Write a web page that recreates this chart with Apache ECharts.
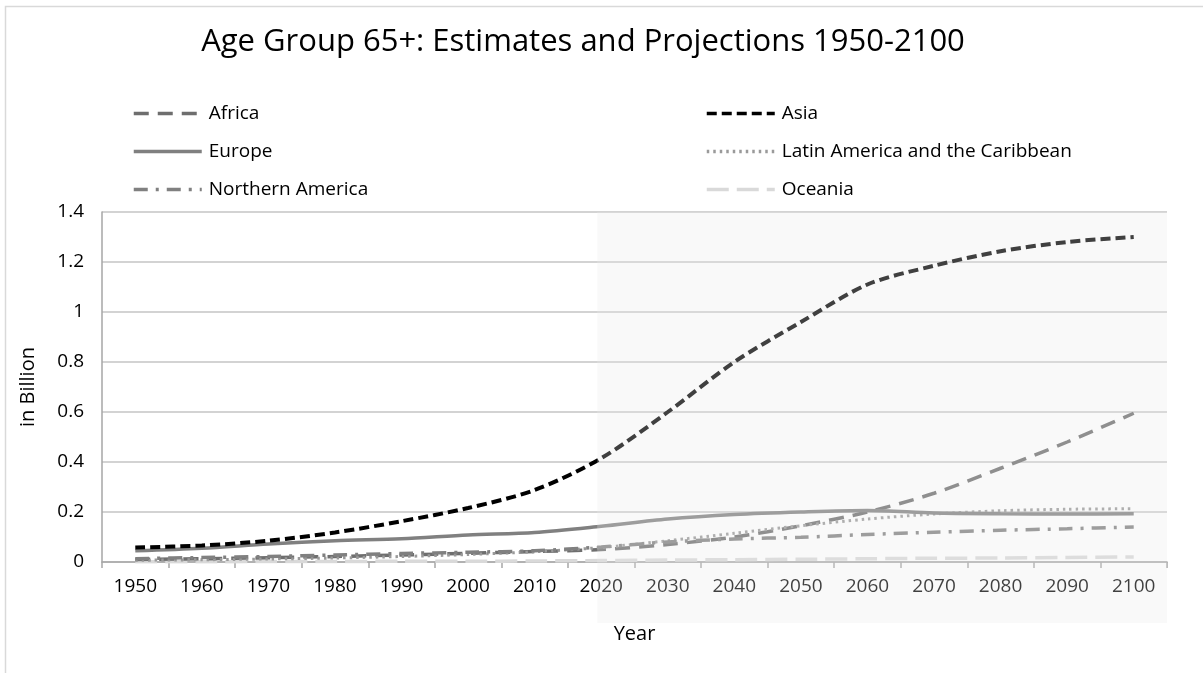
<!DOCTYPE html>
<html>
<head>
<meta charset="utf-8">
<script src="https://cdn.jsdelivr.net/npm/echarts@6/dist/echarts.min.js"></script>
<style>
html,body{margin:0;padding:0;background:#fff;}
#chart{width:1203px;height:673px;}
</style>
</head>
<body>
<div id="chart"></div>
<script>
const years = ['1950','1960','1970','1980','1990','2000','2010','2020','2030','2040','2050','2060','2070','2080','2090','2100'];
const africa   = [0.010,0.013,0.017,0.022,0.028,0.035,0.042,0.050,0.070,0.100,0.145,0.200,0.275,0.375,0.480,0.595];
const asia     = [0.058,0.066,0.085,0.118,0.163,0.216,0.288,0.415,0.600,0.800,0.960,1.110,1.185,1.243,1.280,1.300];
const europe   = [0.045,0.055,0.072,0.085,0.093,0.108,0.118,0.143,0.172,0.190,0.200,0.206,0.196,0.193,0.192,0.193];
const latam    = [0.007,0.009,0.012,0.016,0.022,0.030,0.041,0.058,0.085,0.115,0.145,0.172,0.192,0.205,0.211,0.213];
const namerica = [0.013,0.018,0.022,0.028,0.034,0.039,0.045,0.060,0.080,0.092,0.099,0.110,0.119,0.127,0.133,0.140];
const oceania  = [0.001,0.001,0.002,0.002,0.003,0.003,0.004,0.006,0.008,0.009,0.011,0.013,0.015,0.016,0.018,0.020];
const yTicks = [0,0.2,0.4,0.6,0.8,1,1.2,1.4];
const projectionStart = '2020';

const FONT = 'Open Sans';
const chart = echarts.init(document.getElementById('chart'));

function line(name, data, color, width, dash, z) {
  return {
    name, type: 'line', data, smooth: 0.3, symbol: 'none', showSymbol: false, z: z || 2,
    lineStyle: { color, width, type: dash, cap: 'butt' },
    itemStyle: { color }
  };
}

function legendCfg(names, left) {
  return {
    data: names, left: left,
    orient: 'vertical', top: 99, itemGap: 19,
    itemWidth: 68, itemHeight: 14,
    itemStyle: { opacity: 0 },
    lineStyle: { width: 3.5 },
    textStyle: { fontFamily: FONT, fontSize: 19, color: '#000', padding: [0,0,0,2] }
  };
}

const option = {
  backgroundColor: '#fff',
  animation: false,
  title: {
    text: 'Age Group 65+: Estimates and Projections 1950-2100',
    left: 578, top: 22, textAlign: 'center',
    textStyle: { fontFamily: FONT, fontSize: 31, fontWeight: 'normal', color: '#000' }
  },
  legend: [
    legendCfg(['Africa','Europe','Northern America'], 127),
    legendCfg(['Asia','Latin America and the Caribbean','Oceania'], 700)
  ],
  grid: { left: 102, right: 36, top: 212, bottom: 111, containLabel: false },
  xAxis: {
    type: 'category', data: years, boundaryGap: true,
    name: 'Year', nameLocation: 'middle', nameGap: 62,
    nameTextStyle: { fontFamily: FONT, fontSize: 20, color: '#000' },
    axisLine: { lineStyle: { color: '#a6a6a6', width: 1.5 } },
    axisTick: { show: true, length: 6, lineStyle: { color: '#a6a6a6', width: 1.5 } },
    axisLabel: { fontFamily: FONT, fontSize: 19, color: '#000', margin: 15 }
  },
  yAxis: {
    type: 'value', min: 0, max: 1.4, interval: 0.2,
    name: 'in Billion', nameLocation: 'middle', nameGap: 64,
    nameTextStyle: { fontFamily: FONT, fontSize: 20, color: '#000' },
    axisLine: { show: true, lineStyle: { color: '#a6a6a6', width: 1.5 } },
    axisTick: { show: false },
    splitLine: { lineStyle: { color: '#c4c4c4', width: 1.5 } },
    axisLabel: {
      fontFamily: FONT, fontSize: 19, color: '#000', margin: 18,
      formatter: v => { const t = yTicks.find(x => Math.abs(x - v) < 1e-9); return String(t !== undefined ? t : v); }
    }
  },
  series: [
    line('Africa', africa, '#6e6e6e', 3.5, [15, 9], 3),
    line('Asia', asia, '#000000', 4, [10, 5], 6),
    line('Europe', europe, '#808080', 3.5, 'solid', 4),
    line('Latin America and the Caribbean', latam, '#9a9a9a', 3, [2.5, 4], 3),
    line('Northern America', namerica, '#808080', 3.5, [14, 8, 3, 8], 3),
    line('Oceania', oceania, '#d9d9d9', 3.5, [22, 8], 2)
  ]
};
chart.setOption(option);

const x0 = chart.convertToPixel({ xAxisIndex: 0 }, projectionStart) - 4;
const yTop = chart.convertToPixel({ yAxisIndex: 0 }, 1.4);
chart.setOption({
  graphic: [
    {
      type: 'rect', z: 100, silent: true,
      shape: { x: x0, y: yTop, width: 1167 - x0, height: 623 - yTop },
      style: { fill: 'rgba(233,233,233,0.275)' }
    },
    {
      type: 'rect', z: 100, silent: true,
      shape: { x: 5.5, y: 6.5, width: 1300, height: 700 },
      style: { fill: 'none', stroke: '#d9d9d9', lineWidth: 1.5 }
    }
  ]
});
</script>
</body>
</html>
